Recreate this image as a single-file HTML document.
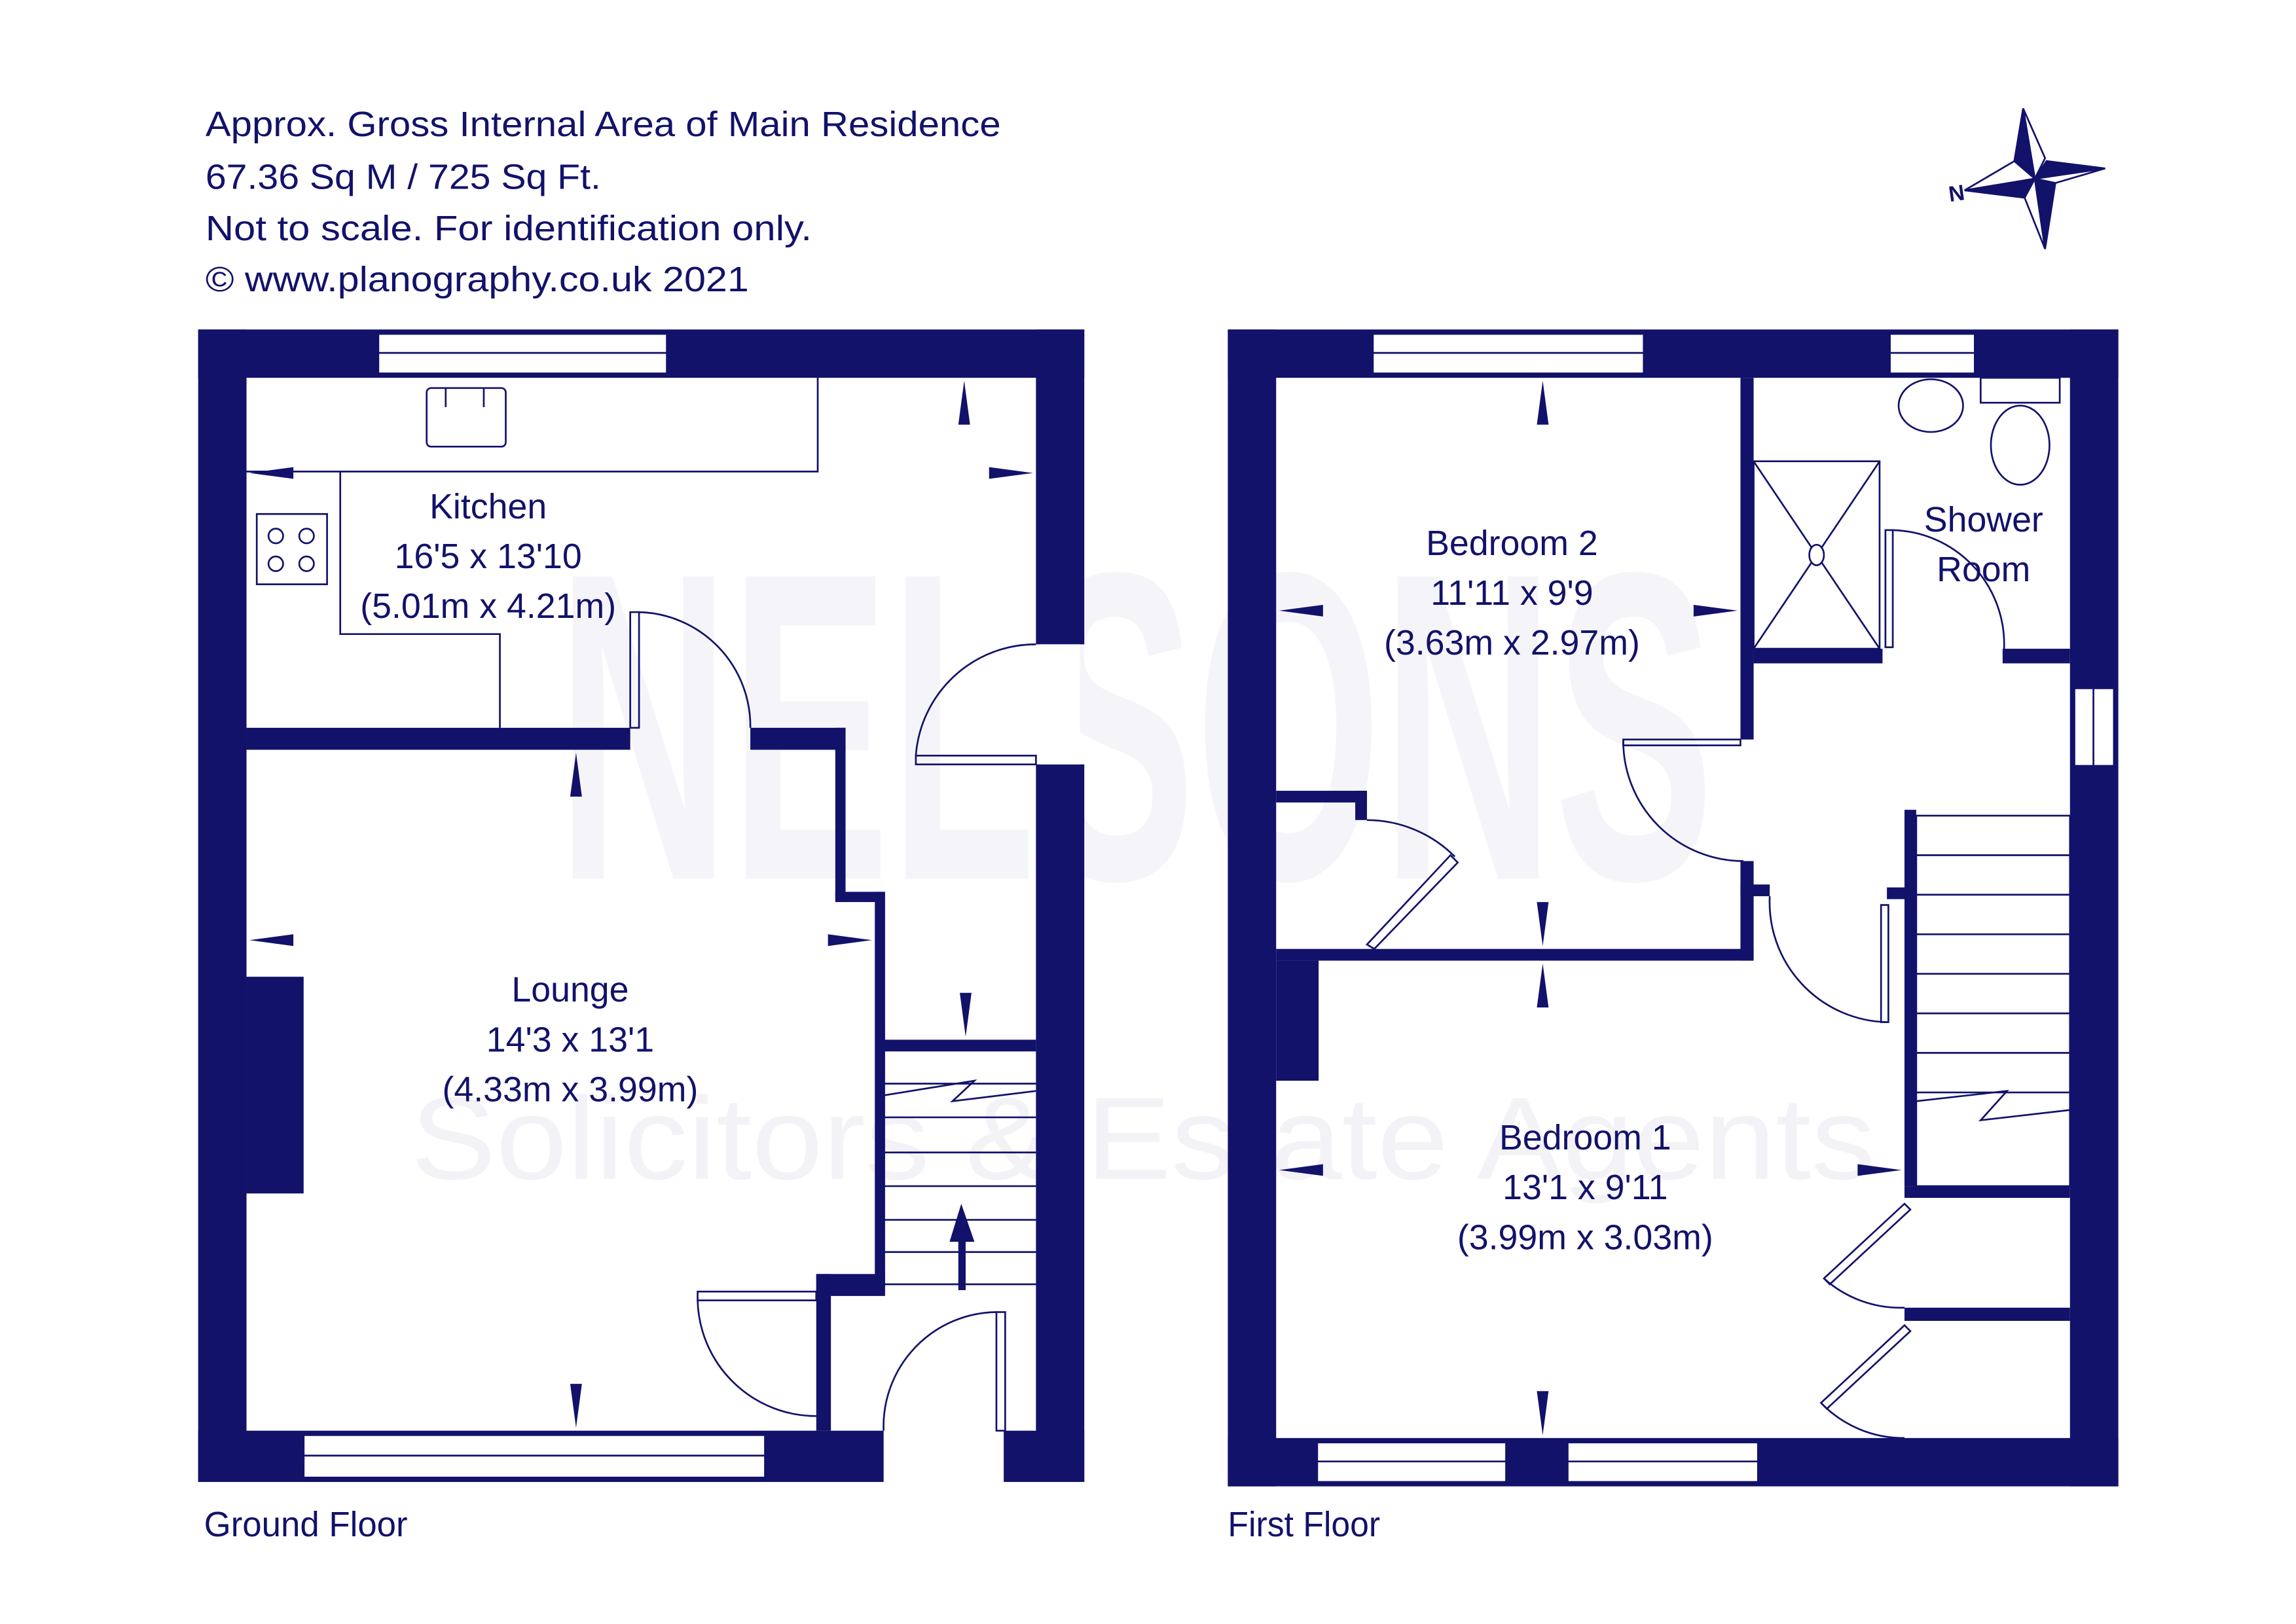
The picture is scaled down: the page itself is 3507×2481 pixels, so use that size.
<!DOCTYPE html>
<html><head><meta charset="utf-8"><style>
html,body{margin:0;padding:0;background:#fff}
svg{display:block}
text{font-family:"Liberation Sans",sans-serif;fill:#12126b}
</style></head><body>
<svg width="3507" height="2481" viewBox="0 0 1567 1109" xmlns="http://www.w3.org/2000/svg">
<rect width="1567" height="1109" fill="#fff"/>
<!-- watermark -->
<text x="780" y="805" font-size="80" text-anchor="middle" style="fill:#f2f2f7" textLength="1000" lengthAdjust="spacingAndGlyphs">Solicitors &amp; Estate Agents</text>
<text x="775" y="600" font-size="300" text-anchor="middle" font-weight="bold" style="fill:#f5f5f9" textLength="790" lengthAdjust="spacingAndGlyphs">NELSONS</text>

<!-- header text -->
<g font-size="24">
<text x="140" y="93" textLength="543" lengthAdjust="spacingAndGlyphs">Approx. Gross Internal Area of Main Residence</text>
<text x="140" y="129" textLength="270" lengthAdjust="spacingAndGlyphs">67.36 Sq M / 725 Sq Ft.</text>
<text x="140" y="164" textLength="414" lengthAdjust="spacingAndGlyphs">Not to scale. For identification only.</text>
<text x="140" y="199" textLength="371" lengthAdjust="spacingAndGlyphs">© www.planography.co.uk 2021</text>
<text x="139" y="1049" textLength="139" lengthAdjust="spacingAndGlyphs">Ground Floor</text>
<text x="838" y="1049" textLength="104" lengthAdjust="spacingAndGlyphs">First Floor</text>
</g>

<!-- compass -->
<g fill="#12126b" stroke="#12126b" stroke-width="1.2">
<polygon points="1381,74 1396,108 1389,122" fill="#fff"/>
<polygon points="1437,115 1389,122 1403,125" fill="#fff"/>
<polygon points="1396,170 1389,122 1382,135" fill="#fff"/>
<polygon points="1341,130 1375,110 1389,122" fill="#fff"/>
<polygon points="1381,74 1375,110 1389,122"/>
<polygon points="1437,115 1397,110 1389,122"/>
<polygon points="1396,170 1403,125 1389,122"/>
<polygon points="1341,130 1382,135 1389,122"/>
</g>
<text x="1330" y="137" font-size="15" font-weight="bold" transform="rotate(-8 1336 131)">N</text>

<g fill="#12126b">
<!-- ===== GROUND FLOOR walls ===== -->
<rect x="135" y="225" width="605" height="33"/>
<rect x="135" y="225" width="33" height="787"/>
<rect x="707" y="225" width="33" height="215"/>
<rect x="707" y="522" width="33" height="490"/>
<rect x="135" y="977" width="468" height="35"/>
<rect x="685" y="977" width="55" height="35"/>
<rect x="168" y="497" width="262" height="15"/>
<rect x="512" y="497" width="65" height="15"/>
<rect x="570" y="497" width="7" height="118"/>
<rect x="570" y="609" width="33" height="7"/>
<rect x="597" y="609" width="7" height="268"/>
<rect x="557" y="870" width="47" height="15"/>
<rect x="557" y="870" width="10" height="107"/>
<rect x="603" y="710" width="104" height="8"/>
<rect x="168" y="667" width="39" height="148"/>

<!-- ===== FIRST FLOOR walls ===== -->
<rect x="838" y="225" width="608" height="33"/>
<rect x="838" y="225" width="33" height="790"/>
<rect x="1413" y="225" width="33" height="790"/>
<rect x="838" y="982" width="608" height="33"/>
<rect x="1188" y="258" width="9" height="247"/>
<rect x="1188" y="588" width="9" height="68"/>
<rect x="871" y="648" width="326" height="8"/>
<rect x="1197" y="443" width="88" height="10"/>
<rect x="1367" y="443" width="46" height="10"/>
<rect x="871" y="540" width="62" height="8"/>
<rect x="925" y="540" width="8" height="20"/>
<rect x="871" y="656" width="29" height="82"/>
<rect x="1300" y="553" width="8" height="257"/>
<rect x="1288" y="606" width="20" height="8"/>
<rect x="1300" y="810" width="113" height="8"/>
<rect x="1300" y="893" width="113" height="9"/>
<rect x="1188" y="604" width="20" height="8"/>
</g>

<g fill="#fff" stroke="#12126b" stroke-width="1.2">
<rect x="258" y="228" width="197" height="27"/>
<rect x="207" y="980" width="315" height="29"/>
<rect x="710" y="440" width="27" height="82" stroke="none"/>
<rect x="937" y="228" width="185" height="27"/>
<rect x="1290" y="228" width="58" height="27"/>
<rect x="1416" y="470" width="27" height="53"/>
<rect x="899" y="985" width="129" height="27"/>
<rect x="1070" y="985" width="130" height="27"/>
<rect x="606" y="980" width="76" height="29" stroke="none"/>
</g>
<g stroke="#12126b" stroke-width="1.2" fill="none">
<line x1="258" y1="241" x2="455" y2="241"/>
<line x1="207" y1="994" x2="522" y2="994"/>
<line x1="937" y1="241" x2="1122" y2="241"/>
<line x1="1290" y1="241" x2="1348" y2="241"/>
<line x1="1429" y1="470" x2="1429" y2="523"/>
<line x1="899" y1="998" x2="1028" y2="998"/>
<line x1="1070" y1="998" x2="1200" y2="998"/>

<polyline points="168,322 232,322 232,433 341,433 341,497"/>
<polyline points="232,322 558,322 558,258"/>
<rect x="291" y="265" width="54" height="40" rx="3"/>
<line x1="304" y1="265" x2="304" y2="278"/><line x1="330" y1="265" x2="330" y2="278"/>
<rect x="175" y="351" width="48" height="48"/>
<circle cx="188" cy="366" r="5"/><circle cx="209" cy="366" r="5"/>
<circle cx="188" cy="385" r="5"/><circle cx="209" cy="385" r="5"/>

<rect x="430" y="418" width="6" height="79"/>
<path d="M436,418 A78,78 0 0 1 512,497"/>
<rect x="625" y="516" width="82" height="6"/>
<path d="M625,516 A82,82 0 0 1 707,440"/>
<rect x="476" y="882" width="81" height="6"/>
<path d="M476,888 A81,81 0 0 0 557,967"/>
<rect x="680" y="896" width="6" height="81"/>
<path d="M680,896 A78,78 0 0 0 603,977"/>
<line x1="603" y1="740" x2="707" y2="740"/>
<line x1="603" y1="763" x2="707" y2="763"/>
<line x1="603" y1="787" x2="707" y2="787"/>
<line x1="603" y1="810" x2="707" y2="810"/>
<line x1="603" y1="833" x2="707" y2="833"/>
<line x1="603" y1="855" x2="707" y2="855"/>
<line x1="603" y1="877" x2="707" y2="877"/>
<polyline points="603,748 665,738 650,752 707,745"/>

<rect x="1108" y="505" width="80" height="4"/>
<path d="M1108,505 A82,82 0 0 0 1190,588"/>
<rect x="1284" y="618" width="5" height="80"/>
<path d="M1208,612 A82,82 0 0 0 1288,698"/>
<path d="M933,645 L990,584 L995,589 L938,648 Z"/>
<path d="M933,560 A85,85 0 0 1 993,585"/>
<rect x="1287" y="362" width="5" height="80"/>
<path d="M1292,362 A78,78 0 0 1 1368,443"/>
<path d="M1300,822 L1245,873 L1249,877 L1304,826 Z"/>
<path d="M1245,873 A78,78 0 0 0 1300,893"/>
<path d="M1300,905 L1243,958 L1247,962 L1304,909 Z"/>
<path d="M1243,958 A78,78 0 0 0 1300,982"/>

<rect x="1197" y="315" width="86" height="128"/>
<line x1="1197" y1="315" x2="1283" y2="443"/>
<line x1="1283" y1="315" x2="1197" y2="443"/>
<ellipse cx="1240" cy="379" rx="5" ry="7" fill="#fff"/>
<ellipse cx="1318" cy="277" rx="22" ry="18"/>
<rect x="1352" y="258" width="54" height="17"/>
<ellipse cx="1379" cy="304" rx="20" ry="27"/>

<rect x="1308" y="557" width="105" height="253"/>
<line x1="1308" y1="584" x2="1413" y2="584"/>
<line x1="1308" y1="611" x2="1413" y2="611"/>
<line x1="1308" y1="638" x2="1413" y2="638"/>
<line x1="1308" y1="665" x2="1413" y2="665"/>
<line x1="1308" y1="692" x2="1413" y2="692"/>
<line x1="1308" y1="719" x2="1413" y2="719"/>
<line x1="1308" y1="746" x2="1413" y2="746"/>
<polyline points="1308,752 1370,745 1352,765 1413,758"/>
</g>
<rect x="654" y="845" width="5" height="36" fill="#12126b"/>
<polygon points="656,822 648,848 665,848" fill="#12126b"/>

<g fill="#12126b">
<polygon points="170,323 200,319 200,327"/>
<polygon points="705,323 675,319 675,327"/>
<polygon points="658,260 654,290 662,290"/>
<polygon points="393,514 389,544 397,544"/>
<polygon points="170,642 200,638 200,646"/>
<polygon points="595,642 565,638 565,646"/>
<polygon points="393,975 389,945 397,945"/>
<polygon points="659,708 655,678 663,678"/>
<polygon points="873,417 903,413 903,421"/>
<polygon points="1186,417 1156,413 1156,421"/>
<polygon points="1053,260 1049,290 1057,290"/>
<polygon points="1053,646 1049,616 1057,616"/>
<polygon points="1053,658 1049,688 1057,688"/>
<polygon points="873,799 903,795 903,803"/>
<polygon points="1298,799 1268,795 1268,803"/>
<polygon points="1053,980 1049,950 1057,950"/>
</g>

<g font-size="24" text-anchor="middle">
<text x="333" y="354">Kitchen</text>
<text x="333" y="388">16'5 x 13'10</text>
<text x="333" y="422">(5.01m x 4.21m)</text>
<text x="389" y="684">Lounge</text>
<text x="389" y="718">14'3 x 13'1</text>
<text x="389" y="752">(4.33m x 3.99m)</text>
<text x="1032" y="379">Bedroom 2</text>
<text x="1032" y="413">11'11 x 9'9</text>
<text x="1032" y="447">(3.63m x 2.97m)</text>
<text x="1354" y="363">Shower</text>
<text x="1354" y="397">Room</text>
<text x="1082" y="785">Bedroom 1</text>
<text x="1082" y="819">13'1 x 9'11</text>
<text x="1082" y="853">(3.99m x 3.03m)</text>
</g>
</svg>
</body></html>
